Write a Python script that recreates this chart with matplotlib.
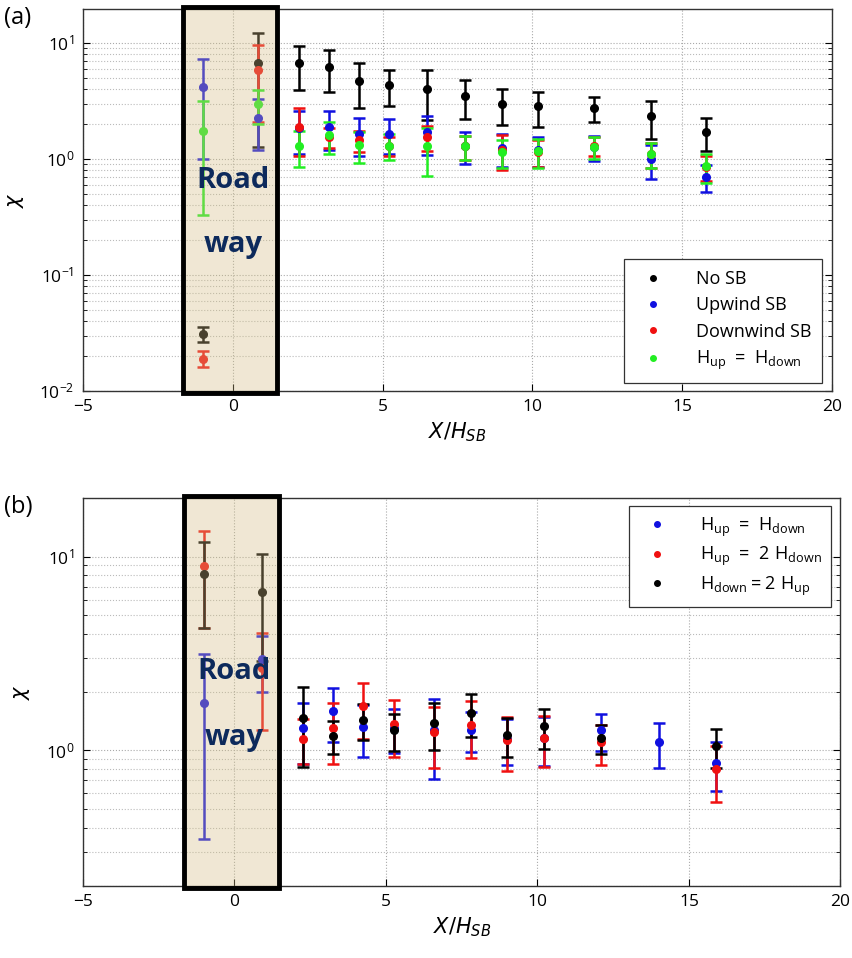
import numpy as np
import matplotlib
matplotlib.use('Agg')
import matplotlib.pyplot as plt
from matplotlib.patches import Rectangle
from matplotlib.ticker import NullFormatter, LogLocator
import matplotlib.transforms as mtransforms

plt.rcParams['font.family'] = ['Open Sans', 'DejaVu Sans']
plt.rcParams['mathtext.fontset'] = 'dejavusans'

# ---- panel (a) data ----
xa = [-1.0, 0.85, 2.2, 3.2, 4.2, 5.2, 6.5, 7.75, 9.0, 10.2, 12.05, 13.95, 15.8]

nosb     = [0.031, 6.76, 6.7, 6.25, 4.7, 4.34, 4.0, 3.49, 2.97, 2.83, 2.75, 2.32, 1.72]
nosb_err = [0.0047, 5.5, 2.75, 2.5, 1.95, 1.5, 1.84, 1.3, 1.0, 0.95, 0.67, 0.85, 0.55]

upw      = [np.nan, 2.25, 1.85, 1.9, 1.65, 1.65, 1.7, 1.3, 1.25, 1.2, 1.27, 1.0, 0.7]
upw_err  = [np.nan, 1.05, 0.75, 0.7, 0.6, 0.55, 0.63, 0.4, 0.4, 0.35, 0.32, 0.33, 0.18]
upw_l    = [4.15]
upw_l_err = [3.15]

dnw      = [0.019, 5.85, 1.9, 1.55, 1.45, 1.3, 1.55, 1.28, 1.2, 1.15, 1.3, 1.1, 0.85]
dnw_err  = [0.003, 3.75, 0.85, 0.3, 0.3, 0.25, 0.37, 0.3, 0.4, 0.3, 0.25, 0.27, 0.2]

equal    = [1.75, 2.95, 1.3, 1.6, 1.32, 1.3, 1.28, 1.28, 1.15, 1.16, 1.27, 1.1, 0.86]
equal_err = [1.42, 0.95, 0.45, 0.5, 0.4, 0.33, 0.57, 0.3, 0.31, 0.33, 0.28, 0.27, 0.24]

# ---- panel (b) data ----
xb = [-1.0, 0.9, 2.25, 3.25, 4.25, 5.25, 6.6, 7.8, 9.0, 10.2, 12.1, 14.0, 15.9]

b_eq      = [1.75, 2.95, 1.3, 1.6, 1.32, 1.3, 1.28, 1.28, 1.15, 1.16, 1.27, 1.1, 0.86]
b_eq_err  = [1.4, 0.95, 0.45, 0.5, 0.4, 0.33, 0.57, 0.3, 0.31, 0.33, 0.28, 0.29, 0.24]

b_up2     = [8.9, 2.65, 1.15, 1.3, 1.69, 1.37, 1.24, 1.35, 1.13, 1.16, 1.1, np.nan, 0.8]
b_up2_err = [4.6, 1.38, 0.3, 0.45, 0.55, 0.45, 0.43, 0.44, 0.35, 0.34, 0.26, np.nan, 0.26]

b_dn2     = [8.1, 6.6, 1.47, 1.19, 1.43, 1.27, 1.38, 1.56, 1.2, 1.33, 1.16, np.nan, 1.05]
b_dn2_err = [3.8, 3.7, 0.65, 0.23, 0.3, 0.28, 0.38, 0.39, 0.27, 0.31, 0.2, np.nan, 0.24]

road_x0, road_x1 = -1.67, 1.47

fig = plt.figure(figsize=(8.52, 9.58), dpi=100)
ax1 = fig.add_axes([0.0974, 0.592, 0.879, 0.3986])
ax2 = fig.add_axes([0.0974, 0.0752, 0.889, 0.4048])

eb = dict(fmt='o', ms=5.5, elinewidth=1.8, capsize=4.5, capthick=1.8, zorder=3)

ax1.errorbar(xa, nosb, yerr=nosb_err, color='k', **eb)
ax1.errorbar(xa, upw, yerr=upw_err, color='#1010e0', **eb)
ax1.errorbar(xa[:1], upw_l, yerr=upw_l_err, color='#1010e0', **eb)
ax1.errorbar(xa, dnw, yerr=dnw_err, color='#f01010', **eb)
ax1.errorbar(xa, equal, yerr=equal_err, color='#22ee22', **eb)

ax2.errorbar(xb, b_eq, yerr=b_eq_err, color='#1010e0', **eb)
ax2.errorbar(xb, b_up2, yerr=b_up2_err, color='#f01010', **eb)
ax2.errorbar(xb, b_dn2, yerr=b_dn2_err, color='k', **eb)


def style(ax, ylo, yhi):
    ax.set_yscale('log')
    ax.set_xlim(-5, 20)
    ax.set_ylim(ylo, yhi)
    ax.set_xticks([-5, 0, 5, 10, 15, 20])
    ax.yaxis.set_minor_locator(LogLocator(base=10, subs=np.arange(2, 10), numticks=20))
    ax.yaxis.set_minor_formatter(NullFormatter())
    ax.grid(True, which='major', color='#aaaaaa', ls=':', lw=0.8)
    ax.grid(True, which='minor', axis='y', color='#bbbbbb', ls=':', lw=0.8)
    ax.tick_params(which='both', direction='in', right=True, top=False, labelsize=12.5)
    ax.tick_params(which='major', length=5, pad=6)
    ax.tick_params(which='minor', length=3)
    for s in ax.spines.values():
        s.set_color('#333333')
        s.set_linewidth(1.0)
    ax.set_xlabel(r'$\mathit{X/H_{SB}}$', fontsize=15, labelpad=4)
    ax.set_ylabel(r'$\chi$', fontsize=15, labelpad=10)

    trans = mtransforms.blended_transform_factory(ax.transData, ax.transAxes)
    ax.add_patch(Rectangle((road_x0, 0), road_x1 - road_x0, 1, transform=trans,
                           facecolor='#d4bd84', alpha=0.35, edgecolor='none', zorder=4))
    ax.add_patch(Rectangle((road_x0, -0.005), road_x1 - road_x0, 1.01, transform=trans,
                           facecolor='none', edgecolor='k', lw=3.5, zorder=5, clip_on=False))
    ax.text(0.0, 0.552, 'Road', transform=trans, ha='center', va='center',
            fontsize=21, fontweight='bold', color='#0d2a5c', zorder=6)
    ax.text(0.0, 0.384, 'way', transform=trans, ha='center', va='center',
            fontsize=21, fontweight='bold', color='#0d2a5c', zorder=6)


style(ax1, 0.01, 19.6)
style(ax2, 0.2, 20)

leg_a = [('k', 'No SB'), ('#1010e0', 'Upwind SB'), ('#f01010', 'Downwind SB'),
         ('#22ee22', r'$\mathregular{H_{up}\ =\ H_{down}}$')]
for c, lab in leg_a:
    ax1.plot([], [], 'o', color=c, ms=4, label=lab)
l1 = ax1.legend(loc='lower right', bbox_to_anchor=(0.992, 0.012), fontsize=13,
                fancybox=False, edgecolor='#333333', framealpha=1, handletextpad=1.4,
                borderpad=0.6, labelspacing=0.45, borderaxespad=0.2)
l1.get_frame().set_linewidth(0.9)

leg_b = [('#1010e0', r'$\mathregular{H_{up}\ =\ H_{down}}$'),
         ('#f01010', r'$\mathregular{H_{up}\ =\ 2\ H_{down}}$'),
         ('k', r'$\mathregular{H_{down}=2\ H_{up}}$')]
for c, lab in leg_b:
    ax2.plot([], [], 'o', color=c, ms=4, label=lab)
l2 = ax2.legend(loc='upper right', bbox_to_anchor=(0.992, 0.988), fontsize=13,
                fancybox=False, edgecolor='#333333', framealpha=1, handletextpad=1.4,
                borderpad=0.5, labelspacing=0.35, borderaxespad=0.2)
l2.get_frame().set_linewidth(0.9)

fig.text(0.005, 0.975, '(a)', fontsize=17)
fig.text(0.005, 0.465, '(b)', fontsize=17)

fig.savefig('out.png', dpi=100)
